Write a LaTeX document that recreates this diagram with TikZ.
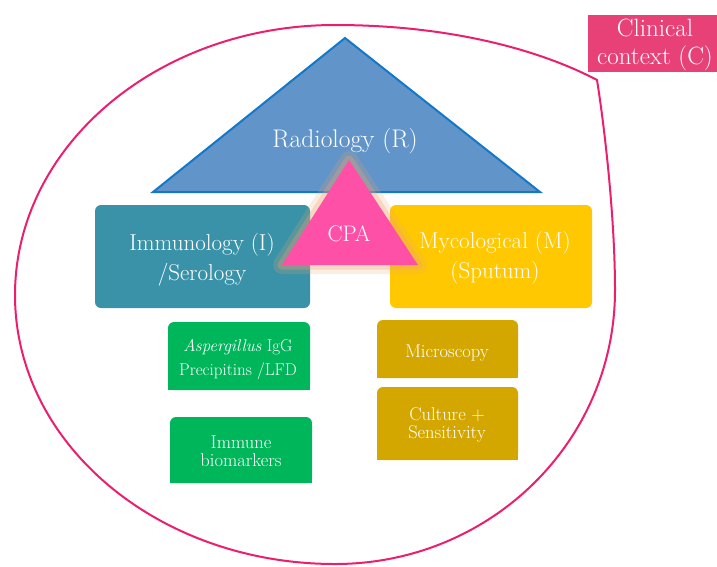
\documentclass[tikz,border=0pt]{standalone}
\usepackage{fontspec}
\definecolor{outline}{RGB}{236,30,110}
\definecolor{clin}{RGB}{232,65,120}
\definecolor{radfill}{RGB}{97,148,200}
\definecolor{radline}{RGB}{20,120,200}
\definecolor{immfill}{RGB}{58,146,168}
\definecolor{mycfill}{RGB}{255,200,0}
\definecolor{cpafill}{RGB}{255,80,168}
\definecolor{glow}{RGB}{235,165,110}
\definecolor{grn}{RGB}{0,182,90}
\definecolor{gold}{RGB}{212,167,0}
\tikzset{
  lbl/.style={text=white, align=center, inner sep=0pt},
  box/.style={rounded corners=6pt, inner sep=0pt},
  bigfont/.style={font=\fontsize{23}{30}\selectfont},
  smallfont/.style={font=\fontsize{17}{24}\selectfont},
  subfont/.style={font=\fontsize{18.5}{18}\selectfont}
}
\begin{document}
\begin{tikzpicture}[x=1pt,y=-1pt]
\useasboundingbox (0,0) rectangle (717,566);
% clinical context outline
\draw[outline, line width=2pt, line join=miter]
  (597,80) coordinate (corner)
  .. controls (605,130) and (615,220) .. (615,290)
  .. controls (615,442) and (490,564) .. (335,564)
  .. controls (158,564) and (15,444) .. (15,295)
  .. controls (15,146) and (158,25) .. (335,25)
  .. controls (450,25) and (540,50) .. (corner) -- cycle;
% radiology triangle
\path[fill=radfill, draw=radline, line width=2pt]
  (345,38) coordinate (ra) -- (540,192) coordinate (rr) -- (153,192) coordinate (rl) -- cycle;
\node[lbl, font=\fontsize{25.5}{28}\selectfont] (rad) at (345,141) {Radiology (R)};
% main boxes
\node[box, fill=immfill, minimum width=215pt, minimum height=103pt] (imm) at (202.5,256.5) {};
\node[lbl, bigfont] (immt) at (202,260) {Immunology (I)\\/Serology};
\node[box, fill=mycfill, minimum width=202pt, minimum height=103pt] (myc) at (491,256.5) {};
\node[lbl, bigfont] (myct) at (495,258) {Mycological (M)\\(Sputum)};
% CPA triangle with glow
\draw[glow, opacity=0.2, line width=18pt, line join=round] (349,160) -- (418,265) -- (282,265) -- cycle;
\draw[glow, opacity=0.3, line width=9pt, line join=round] (349,160) -- (418,265) -- (282,265) -- cycle;
\path[fill=cpafill] (349,160) coordinate (ca) -- (418,265) coordinate (cr) -- (282,265) coordinate (cl) -- cycle;
\node[lbl, font=\fontsize{22.5}{24}\selectfont] (cpa) at (349,234) {CPA};
% sub boxes (rounded top, square bottom)
\node[box, fill=grn, minimum width=142pt, minimum height=68pt] (igg) at (239,356) {};
\fill[grn] (igg.west) rectangle (igg.south east);
\node[lbl, smallfont] (iggt) at (238,360) {\textit{Aspergillus} IgG\\Precipitins /LFD};
\node[box, fill=grn, minimum width=142pt, minimum height=66pt] (bio) at (241,450) {};
\fill[grn] (bio.west) rectangle (bio.south east);
\node[lbl, subfont] (biot) at (241,451) {Immune\\biomarkers};
\node[box, fill=gold, minimum width=141pt, minimum height=58pt] (mic) at (447.5,349) {};
\fill[gold] (mic.west) rectangle (mic.south east);
\node[lbl, subfont] (mict) at (447,353) {Microscopy};
\node[box, fill=gold, minimum width=141pt, minimum height=73pt] (cul) at (447.5,423.5) {};
\fill[gold] (cul.west) rectangle (cul.south east);
\node[lbl, subfont] (cult) at (447,425) {Culture +\\Sensitivity};
% clinical context label
\node[fill=clin, minimum width=132pt, minimum height=57pt, inner sep=0pt] (clinbox) at (654,43.5) {};
\node[lbl, font=\fontsize{25}{28}\selectfont] (clin) at (655,45) {Clinical\\context (C)};
\end{tikzpicture}
\end{document}
